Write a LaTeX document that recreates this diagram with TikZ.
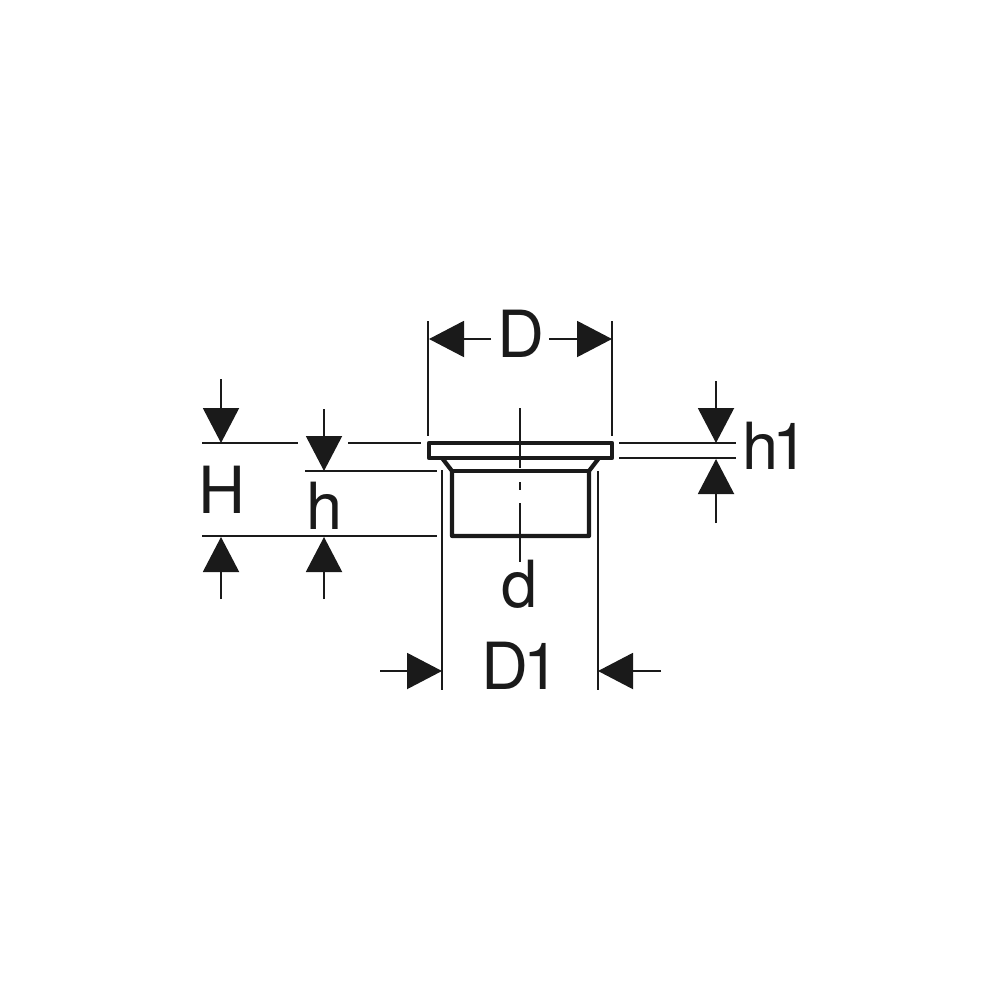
\documentclass[tikz,border=0pt]{standalone}
\usepackage{fontspec}
\setmainfont{TeX Gyre Heros}
\usetikzlibrary{arrows.meta}
\definecolor{ink}{HTML}{1A1A1A}
\tikzset{
  dimline/.style={draw=ink,line width=2pt},
  dimarrow/.style={draw=ink,line width=2pt,-{Triangle[length=35pt,width=36pt,fill=ink]}},
  part/.style={draw=ink,line width=4.2pt,line join=round},
  centre/.style={draw=ink,line width=2pt},
  dimtext/.style={text=ink,font=\fontsize{65}{65}\selectfont,inner sep=0pt,anchor=base}
}
\begin{document}
\begin{tikzpicture}[x=1pt,y=-1pt]
\useasboundingbox (0,0) rectangle (1000,1000);
% part
\draw[part] (429,443) rectangle (612,458);
\draw[part] (442,458) -- (452,471) -- (452,536) -- (589,536) -- (589,471) -- (599,458);
\draw[part] (452,471) -- (589,471);
% centre line
\draw[centre] (520,408) -- (520,468);
\draw[centre] (520,482) -- (520,490);
\draw[centre] (520,503) -- (520,562);
% extension lines
\draw[dimline] (428,321) -- (428,436);
\draw[dimline] (612,321) -- (612,436);
\draw[dimline] (202,443) -- (298,443);
\draw[dimline] (348,443) -- (421,443);
\draw[dimline] (305,471) -- (437,471);
\draw[dimline] (202,536) -- (437,536);
\draw[dimline] (619,443) -- (736,443);
\draw[dimline] (619,458) -- (736,458);
\draw[dimline] (442,470) -- (442,690);
\draw[dimline] (598,471) -- (598,690);
% arrows
\draw[dimarrow] (491,339) -- (429,339);
\draw[dimarrow] (549,339) -- (612,339);
\draw[dimarrow] (221,379) -- (221,443);
\draw[dimarrow] (221,599) -- (221,537);
\draw[dimarrow] (324,409) -- (324,471);
\draw[dimarrow] (324,599) -- (324,537);
\draw[dimarrow] (716,381) -- (716,443);
\draw[dimarrow] (716,523) -- (716,459);
\draw[dimarrow] (380,671) -- (442,671);
\draw[dimarrow] (661,671) -- (598,671);
% labels
\node[dimtext] (labelD) at (520.5,357) {D};
\node[dimtext] (labelH) at (222,513) {H};
\node[dimtext] (labelh) at (324.5,529) {h};
\node[dimtext] (labelhone) at (775.5,469) {h\kern-6pt 1};
\node[dimtext] (labeld) at (520,607) {d};
\node[dimtext] (labelDone) at (520.5,689) {D\kern-5pt 1};
\end{tikzpicture}
\end{document}
